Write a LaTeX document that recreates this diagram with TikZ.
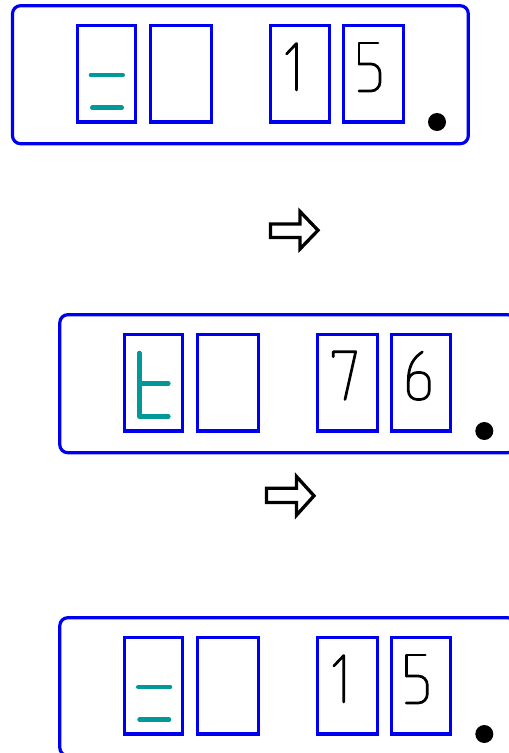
\documentclass[tikz,border=0pt]{standalone}
\usetikzlibrary{calc}
\definecolor{panelblue}{RGB}{0,0,240}
\definecolor{tealglyph}{RGB}{0,153,153}
\tikzset{
  panelframe/.style={draw=panelblue, line width=3.2pt, rounded corners=8pt},
  digitbox/.style={draw=panelblue, line width=3.2pt},
  tealstroke/.style={draw=tealglyph, line width=4.6pt, line cap=round, line join=round},
  digitstroke/.style={draw=black, line width=2.7pt, line cap=round, line join=round},
  blockarrow/.style={draw=black, line width=3.3pt, line join=miter, fill=white},
  dotmark/.style={fill=black}
}
\newcommand{\panelbase}{%
  \draw[panelframe] (12.5,5.7) rectangle (468.3,143.7);
  \draw[digitbox] (77.2,25.7) rectangle (135.5,122);
  \draw[digitbox] (150.2,25.7) rectangle (211.2,122);
  \draw[digitbox] (270.2,25.7) rectangle (329.8,122);
  \draw[digitbox] (343.8,25.7) rectangle (403.5,122);
  \fill[dotmark] (437,122) circle (9);
}
\newcommand{\glyphequal}{%
  \draw[tealstroke] (91,75) -- (122.7,75);
  \draw[tealstroke] (92.3,107.7) -- (121.7,107.7);
}
\newcommand{\digitone}{%
  \draw[digitstroke] (286.5,54) -- (296.5,43.5) -- (296.5,90);
}
\newcommand{\digitfive}{%
  \draw[digitstroke] (378,43) -- (359,43) -- (359,64);
  \draw[digitstroke, rounded corners=9pt] (359,64) -- (380,64) -- (380,91) -- (359,91);
}
\begin{document}
\begin{tikzpicture}[x=1pt,y=-1pt]
\useasboundingbox (0,0) rectangle (509,753);
\fill[white] (0,0) rectangle (509,753);
\clip (0,0) rectangle (509,753);
% panel 1
\begin{scope}
  \panelbase
  \glyphequal
  \digitone
  \digitfive
\end{scope}
% arrow 1
\draw[blockarrow] (270.5,224) -- (300,224) -- (300,211.5) -- (318,230.3) -- (300,249) -- (300,237.5) -- (270.5,237.5) -- cycle;
% panel 2
\begin{scope}[shift={(47.3,309)}]
  \panelbase
  \draw[tealstroke] (92,44) -- (92,107.5) -- (121,107.5);
  \draw[tealstroke] (92,74.5) -- (121,74.5);
  \draw[digitstroke] (286,47.7) -- (286,42.7) -- (308.4,42.7) -- (297.7,90.5);
  \draw[digitstroke] (375,43) .. controls (366,49) and (361,57) .. (361,72);
  \draw[digitstroke, rounded corners=9pt] (361,76) -- (361,90.5) -- (382,90.5) -- (382,63.5) -- (361,63.5) -- (361,76);
\end{scope}
% arrow 2
\draw[blockarrow] (266.5,488.2) -- (296.5,488.2) -- (296.5,476.5) -- (314,495.8) -- (296.5,515.2) -- (296.5,502.5) -- (266.5,502.5) -- cycle;
% panel 3
\begin{scope}[shift={(47.3,612)}]
  \panelbase
  \glyphequal
  \digitone
  \digitfive
\end{scope}
\end{tikzpicture}
\end{document}
